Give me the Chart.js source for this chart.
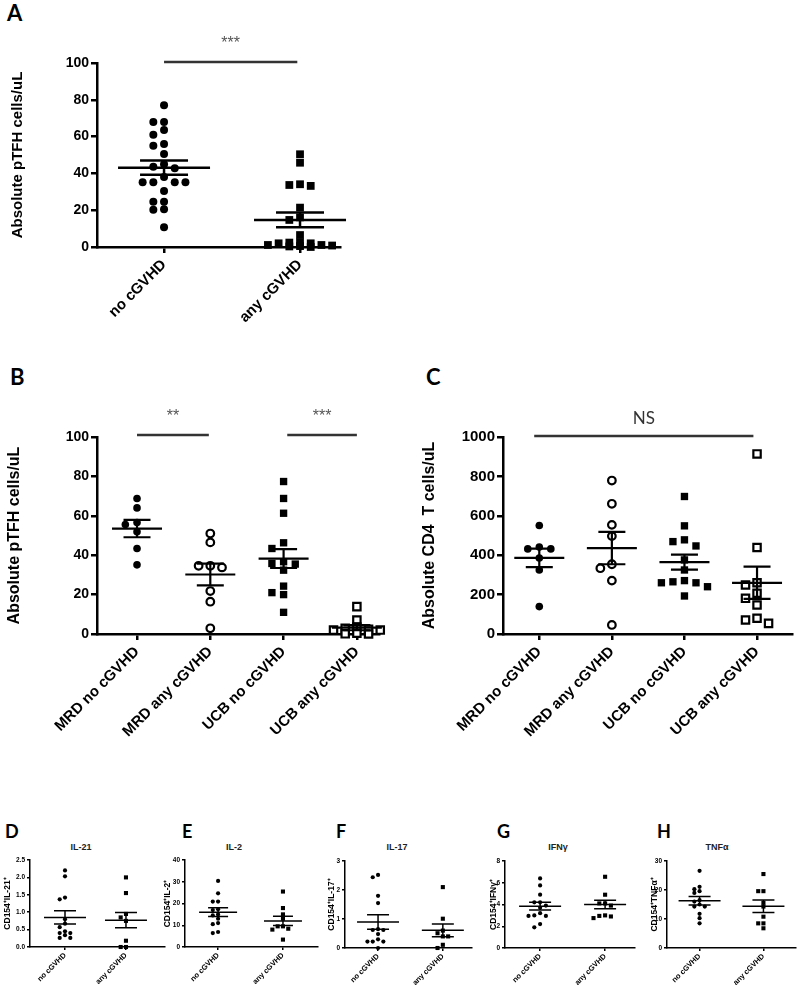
<!DOCTYPE html>
<html>
<head>
<meta charset="utf-8">
<script src="https://cdn.jsdelivr.net/npm/chart.js@4.4.0/dist/chart.umd.min.js"></script>
<style>
  body { margin: 0; width: 800px; height: 985px; position: relative; overflow: hidden; background: #fff; }
  canvas.panel { position: absolute; }
  .letter { position: absolute; font-family: Lato, "Liberation Sans", sans-serif; font-weight: 700; line-height: 1; color: #000; }
  .sub { position: absolute; font-family: "Liberation Sans", Arial, sans-serif; font-weight: 700; font-size: 9px; line-height: 1; color: #222; transform: translateX(-50%); white-space: nowrap; }
</style>
</head>
<body>
<div class="letter" style="left:7px;top:2px;font-size:22px">A</div>
<div class="letter" style="left:10px;top:366px;font-size:22px">B</div>
<div class="letter" style="left:426px;top:366px;font-size:22px">C</div>
<div class="letter" style="left:5px;top:822px;font-size:18px">D</div>
<div class="letter" style="left:182px;top:822px;font-size:18px">E</div>
<div class="letter" style="left:336px;top:822px;font-size:18px">F</div>
<div class="letter" style="left:497px;top:822px;font-size:18px">G</div>
<div class="letter" style="left:657px;top:822px;font-size:18px">H</div>
<div class="sub" style="left:81px;top:843px">IL-21</div>
<div class="sub" style="left:234px;top:843px">IL-2</div>
<div class="sub" style="left:397px;top:843px">IL-17</div>
<div class="sub" style="left:558px;top:843px">IFNγ</div>
<div class="sub" style="left:717px;top:843px">TNFα</div>
<script>
// ---- data ----
// A: absolute pTFH
const groupsA = ["no cGVHD", "any cGVHD"];
const aNoCgvhd = [77, 68, 68, 63.6, 61, 56, 55, 50.5, 45, 43.6, 42.8, 38, 35.2, 35.2, 35.2, 35.2, 30.4, 24.6, 24.6, 20.5, 20.2, 10.7];
const aAnyCgvhd = [50.4, 45.8, 34.1, 33.7, 33.2, 21.4, 16.1, 14.7, 6.5, 2.5, 2.4, 2, 2, 1.1, 1.1, 0.8, 0.5, 0.3, 0];
const aMean = [43.1, 14.7];
const aSem = [3.9, 4.0];
const yTicksA = [0, 20, 40, 60, 80, 100];

// B: absolute pTFH by donor source
const groupsBC = ["MRD no cGVHD", "MRD any cGVHD", "UCB no cGVHD", "UCB any cGVHD"];
const bMrdNo = [68.8, 64, 56.6, 55.6, 51.9, 43.4, 35.1];
const bMrdAny = [51, 46.5, 34.6, 34.6, 33.8, 21.8, 16.4, 2.9];
const bUcbNo = [77.4, 68.8, 61.3, 46.3, 43.4, 36.7, 35.8, 35.5, 32.4, 24.3, 21, 20, 11];
const bUcbAny = [13.9, 7.1, 3.5, 2.9, 2.4, 2.0, 2.0, 0.4, 0.1, 0];
const bMean = [53.5, 30.2, 38.3, 3.2];
const bSem = [4.4, 5.5, 4.8, 1.3];
const yTicksB = [0, 20, 40, 60, 80, 100];

// C: absolute CD4 T cells
const cMrdNo = [551, 441, 432, 432, 386, 325, 139];
const cMrdAny = [779, 661, 554, 497, 354, 334, 271, 46];
const cUcbNo = [698, 549, 478, 469, 447, 376, 325, 271, 265, 260, 260, 240, 193];
const cUcbAny = [914, 439, 260, 249, 207, 181, 147, 80, 71, 54];
const cMean = [386, 436, 365, 260];
const cSem = [47, 82, 38, 82];
const yTicksC = [0, 200, 400, 600, 800, 1000];

// D-H: cytokine producing CD154+ cells
const groupsSmall = ["no cGVHD", "any cGVHD"];
const il21No = [2.2, 2.03, 1.42, 1.37, 0.8, 0.67, 0.57, 0.45, 0.4, 0.4, 0.34, 0.26, 0.26];
const il21Any = [2.0, 1.55, 0.95, 0.85, 0.75, 0.18, 0, 0];
const il21Mean = [0.85, 0.77];
const il21Sem = [0.19, 0.22];
const yTicksIl21 = [0, 0.5, 1.0, 1.5, 2.0, 2.5];

const il2No = [30.4, 24.7, 20.9, 20.9, 17.4, 17, 15, 14.5, 13, 11, 10.5, 6.9, 6.4];
const il2Any = [25.5, 17.9, 15, 13, 9.5, 9.5, 8.4, 8, 3.4];
const il2Mean = [16, 12];
const il2Sem = [2, 2.1];
const yTicksIl2 = [0, 10, 20, 30, 40];

const il17No = [2.52, 2.44, 1.8, 1.55, 0.65, 0.62, 0.62, 0.48, 0.3, 0.22, 0.22, 0.22, 0];
const il17Any = [2.1, 1.01, 0.6, 0.51, 0.4, 0.4, 0.11, 0];
const il17Mean = [0.9, 0.61];
const il17Sem = [0.25, 0.22];
const yTicksIl17 = [0, 1, 2, 3];

const ifnNo = [6.4, 5.75, 4.9, 4.2, 4.2, 3.9, 3.7, 3.2, 3.0, 2.95, 2.95, 2.2, 1.9];
const ifnAny = [6.55, 4.9, 4.1, 4.1, 3.9, 3.0, 2.95, 2.9, 2.75];
const ifnMean = [3.85, 4.0];
const ifnSem = [0.35, 0.4];
const yTicksIfn = [0, 2, 4, 6, 8];

const tnfNo = [26.6, 21.1, 20.3, 19.6, 19, 16.5, 16, 15, 14.3, 14.3, 11.8, 10.3, 8.5];
const tnfAny = [25.5, 19.6, 19.6, 15.6, 14.3, 10.8, 8.5, 8.5, 6.8];
const tnfMean = [16.3, 14.4];
const tnfSem = [1.45, 2.15];
const yTicksTnf = [0, 10, 20, 30];

// ---- plugins ----
Chart.register({
  id: 'meanSem',
  afterDatasetsDraw(chart, args, opts) {
    if (!opts.means) return;
    const { ctx, scales: { x, y } } = chart;
    ctx.save();
    ctx.strokeStyle = '#000';
    ctx.lineWidth = opts.lineWidth;
    opts.means.forEach((m, i) => {
      const cx = x.getPixelForValue(i);
      const ym = y.getPixelForValue(m);
      const yt = y.getPixelForValue(m + opts.sems[i]);
      const yb = y.getPixelForValue(m - opts.sems[i]);
      ctx.beginPath();
      ctx.moveTo(cx - opts.meanHalf, ym); ctx.lineTo(cx + opts.meanHalf, ym);
      ctx.moveTo(cx - opts.semHalf, yt); ctx.lineTo(cx + opts.semHalf, yt);
      ctx.moveTo(cx - opts.semHalf, yb); ctx.lineTo(cx + opts.semHalf, yb);
      ctx.moveTo(cx, yt); ctx.lineTo(cx, yb);
      ctx.stroke();
    });
    ctx.restore();
  }
});

Chart.register({
  id: 'sigBars',
  afterDraw(chart, args, opts) {
    if (!opts.bars) return;
    const { ctx, scales: { x, y } } = chart;
    ctx.save();
    opts.bars.forEach(b => {
      const x1 = x.getPixelForValue(b.from), x2 = x.getPixelForValue(b.to);
      const yy = y.getPixelForValue(b.level);
      ctx.strokeStyle = '#333';
      ctx.lineWidth = opts.lineWidth;
      ctx.beginPath(); ctx.moveTo(x1, yy); ctx.lineTo(x2, yy); ctx.stroke();
      ctx.fillStyle = opts.color;
      ctx.font = opts.font;
      ctx.textAlign = 'center';
      ctx.textBaseline = 'middle';
      ctx.fillText(b.text, (x1 + x2) / 2, yy - opts.gap);
    });
    ctx.restore();
  }
});

// spread points of one column sideways so they do not sit on top of each other
function swarm(values, pxPerUnit, collidePx) {
  const placed = [];
  const slots = new Array(values.length);
  const order = values.map((v, i) => i).sort((a, b) => values[b] - values[a]);
  for (const i of order) {
    const yy = values[i] * pxPerUnit;
    for (let k = 0; k < 60; k++) {
      const s = k === 0 ? 0 : (k % 2 ? -Math.ceil(k / 2) : k / 2);
      const hit = placed.some(p => p.s === s && Math.abs(p.y - yy) < collidePx);
      if (!hit) { placed.push({ s, y: yy }); slots[i] = s; break; }
    }
  }
  return slots;
}

const FONT = '"Liberation Sans", Arial, sans-serif';

function makePanel(p) {
  const canvas = document.createElement('canvas');
  canvas.className = 'panel';
  canvas.width = p.box.w; canvas.height = p.box.h;
  canvas.style.left = p.box.x + 'px';
  canvas.style.top = p.box.y + 'px';
  document.body.appendChild(canvas);

  const pxPerCat = (p.area.r - p.area.l) / (p.xMax - p.xMin);
  const pxPerUnit = (p.area.b - p.area.t) / (p.yMax - p.yMin);

  const datasets = p.series.map((vals, i) => {
    const collide = Array.isArray(p.collide) ? p.collide[i] : p.collide;
    const slots = swarm(vals, pxPerUnit, collide);
    const m = p.markers[i];
    const isRect = m === 'rect' || m === 'openRect';
    const open = m === 'openCircle' || m === 'openRect';
    return {
      data: vals.map((v, k) => ({ x: i + slots[k] * p.slot / pxPerCat, y: v })),
      pointStyle: isRect ? 'rect' : 'circle',
      pointRadius: isRect ? p.rectR : p.dotR,
      backgroundColor: open ? '#fff' : '#000',
      borderColor: '#000',
      borderWidth: open ? p.openBorder : 0,
      clip: false
    };
  });

  new Chart(canvas, {
    type: 'scatter',
    data: { datasets },
    options: {
      responsive: false,
      animation: false,
      events: [],
      layout: { padding: { top: p.area.t - p.box.y, right: p.box.x + p.box.w - p.area.r, left: 0, bottom: 0 } },
      plugins: {
        legend: { display: false },
        tooltip: { enabled: false },
        meanSem: { means: p.means, sems: p.sems, meanHalf: p.meanHalf, semHalf: p.semHalf, lineWidth: p.statWidth },
        sigBars: p.sig
      },
      scales: {
        x: {
          type: 'linear',
          min: p.xMin, max: p.xMax,
          afterBuildTicks: s => { s.ticks = p.groups.map((g, i) => ({ value: i })); },
          afterFit: s => { s.height = p.box.y + p.box.h - p.area.b; },
          ticks: {
            callback: v => p.groups[v],
            autoSkip: false, minRotation: 45, maxRotation: 45,
            color: '#000', padding: p.xPad,
            font: { family: FONT, weight: 'bold', size: p.xFont }
          },
          grid: { drawOnChartArea: false, drawTicks: true, tickLength: p.tickLen, color: '#000', lineWidth: p.axisWidth },
          border: { color: '#000', width: p.axisWidth }
        },
        y: {
          min: p.yMin, max: p.yMax,
          afterBuildTicks: s => { s.ticks = p.yTicks.map(v => ({ value: v })); },
          afterFit: s => { s.width = p.area.l - p.box.x; },
          ticks: {
            callback: v => p.yFmt ? p.yFmt(v) : String(v),
            color: '#000', padding: 2,
            font: { family: FONT, weight: 'bold', size: p.yFont }
          },
          title: {
            display: true, text: p.yTitle, color: '#000', padding: 0,
            font: { family: FONT, weight: 'bold', size: p.titleFont, lineHeight: 1 }
          },
          grid: { drawOnChartArea: false, drawTicks: true, tickLength: p.tickLen, color: '#000', lineWidth: p.axisWidth },
          border: { color: '#000', width: p.axisWidth }
        }
      }
    }
  });
}

const big = { xFont: 15, yFont: 14, tickLen: 6, xPad: 3, axisWidth: 2.5, statWidth: 2.5, openBorder: 2.2 };
const small = { xFont: 7.5, yFont: 6.5, titleFont: 8.5, tickLen: 3, xPad: 1, axisWidth: 1.5, statWidth: 1.5, openBorder: 1,
  dotR: 2.1, rectR: 2.9, slot: 5.3, collide: 3.6, meanHalf: 21, semHalf: 11, yMin: 0 };

makePanel(Object.assign({}, big, {
  box: { x: 10, y: 0, w: 340, h: 360 }, area: { l: 97, t: 63, r: 340, b: 247 },
  xMin: -0.493, xMax: 1.294, yMin: 0, yMax: 100, yTicks: yTicksA,
  groups: groupsA, series: [aNoCgvhd, aAnyCgvhd], markers: ['circle', 'rect'],
  means: aMean, sems: aSem, meanHalf: 46, semHalf: 24,
  dotR: 4, rectR: 5.5, slot: 10.7, collide: [7.5, 3.5],
  yTitle: 'Absolute pTFH cells/uL', titleFont: 15,
  sig: { bars: [{ from: 0, to: 0.98, level: 100.5, text: '***' }], lineWidth: 2.5, color: '#555', font: '16px ' + FONT, gap: 18 }
}));

makePanel(Object.assign({}, big, {
  box: { x: 7, y: 365, w: 380, h: 375 }, area: { l: 97, t: 437, r: 380, b: 634 },
  xMin: -0.546, xMax: 3.31, yMin: 0, yMax: 100, yTicks: yTicksB,
  groups: groupsBC, series: [bMrdNo, bMrdAny, bUcbNo, bUcbAny], markers: ['circle', 'openCircle', 'rect', 'openRect'],
  means: bMean, sems: bSem, meanHalf: 25, semHalf: 13.5,
  dotR: 3.8, rectR: 5.2, slot: 11.7, collide: [7, 7, 7, 3.8], statWidth: 2.2,
  yTitle: 'Absolute pTFH cells/uL', titleFont: 16,
  sig: { bars: [{ from: 0, to: 0.98, level: 101, text: '**' }, { from: 2.05, to: 3.0, level: 101, text: '***' }],
    lineWidth: 2.5, color: '#555', font: '16px ' + FONT, gap: 18 }
}));

makePanel(Object.assign({}, big, {
  box: { x: 422, y: 365, w: 378, h: 375 }, area: { l: 503, t: 437, r: 797, b: 634 },
  xMin: -0.50, xMax: 3.49, yMin: 0, yMax: 1000, yTicks: yTicksC, yFont: 15,
  groups: groupsBC, series: [cMrdNo, cMrdAny, cUcbNo, cUcbAny], markers: ['circle', 'openCircle', 'rect', 'openRect'],
  means: cMean, sems: cSem, meanHalf: 25, semHalf: 13.5,
  dotR: 3.8, rectR: 5.2, slot: 11.7, collide: 6.5, statWidth: 2.2,
  yTitle: 'Absolute CD4  T cells/uL', titleFont: 16,
  sig: { bars: [{ from: -0.07, to: 2.95, level: 1005, text: 'NS' }], lineWidth: 2.5, color: '#333', font: '17px Lato, ' + FONT, gap: 17 }
}));

const fmt1 = v => v.toFixed(1);
makePanel(Object.assign({}, small, {
  box: { x: 3, y: 850, w: 167, h: 135 }, area: { l: 30, t: 860, r: 165, b: 947 },
  xMin: -0.574, xMax: 1.64, yMax: 2.5, yTicks: yTicksIl21, yFmt: fmt1,
  groups: groupsSmall, series: [il21No, il21Any], markers: ['circle', 'rect'],
  means: il21Mean, sems: il21Sem, yTitle: 'CD154⁺IL-21⁺'
}));
makePanel(Object.assign({}, small, {
  box: { x: 163, y: 850, w: 159, h: 135 }, area: { l: 185, t: 860, r: 318, b: 947 },
  xMin: -0.51, xMax: 1.54, yMax: 40, yTicks: yTicksIl2,
  groups: groupsSmall, series: [il2No, il2Any], markers: ['circle', 'rect'],
  means: il2Mean, sems: il2Sem, meanHalf: 19, semHalf: 10, yTitle: 'CD154⁺IL-2⁺'
}));
makePanel(Object.assign({}, small, {
  box: { x: 327, y: 850, w: 149, h: 135 }, area: { l: 345, t: 861, r: 472, b: 948 },
  xMin: -0.51, xMax: 1.45, yMax: 3, yTicks: yTicksIl17,
  groups: groupsSmall, series: [il17No, il17Any], markers: ['circle', 'rect'],
  means: il17Mean, sems: il17Sem, yTitle: 'CD154⁺IL-17⁺'
}));
makePanel(Object.assign({}, small, {
  box: { x: 489, y: 850, w: 151, h: 135 }, area: { l: 505, t: 861, r: 635, b: 948 },
  xMin: -0.54, xMax: 1.46, yMax: 8, yTicks: yTicksIfn,
  groups: groupsSmall, series: [ifnNo, ifnAny], markers: ['circle', 'rect'],
  means: ifnMean, sems: ifnSem, slot: 5.8, yTitle: 'CD154⁺IFNγ⁺'
}));
makePanel(Object.assign({}, small, {
  box: { x: 650, y: 850, w: 150, h: 135 }, area: { l: 667, t: 861, r: 798, b: 948 },
  xMin: -0.51, xMax: 1.51, yMax: 30, yTicks: yTicksTnf,
  groups: groupsSmall, series: [tnfNo, tnfAny], markers: ['circle', 'rect'],
  means: tnfMean, sems: tnfSem, yTitle: 'CD154⁺TNFα⁺'
}));
</script>
</body>
</html>
